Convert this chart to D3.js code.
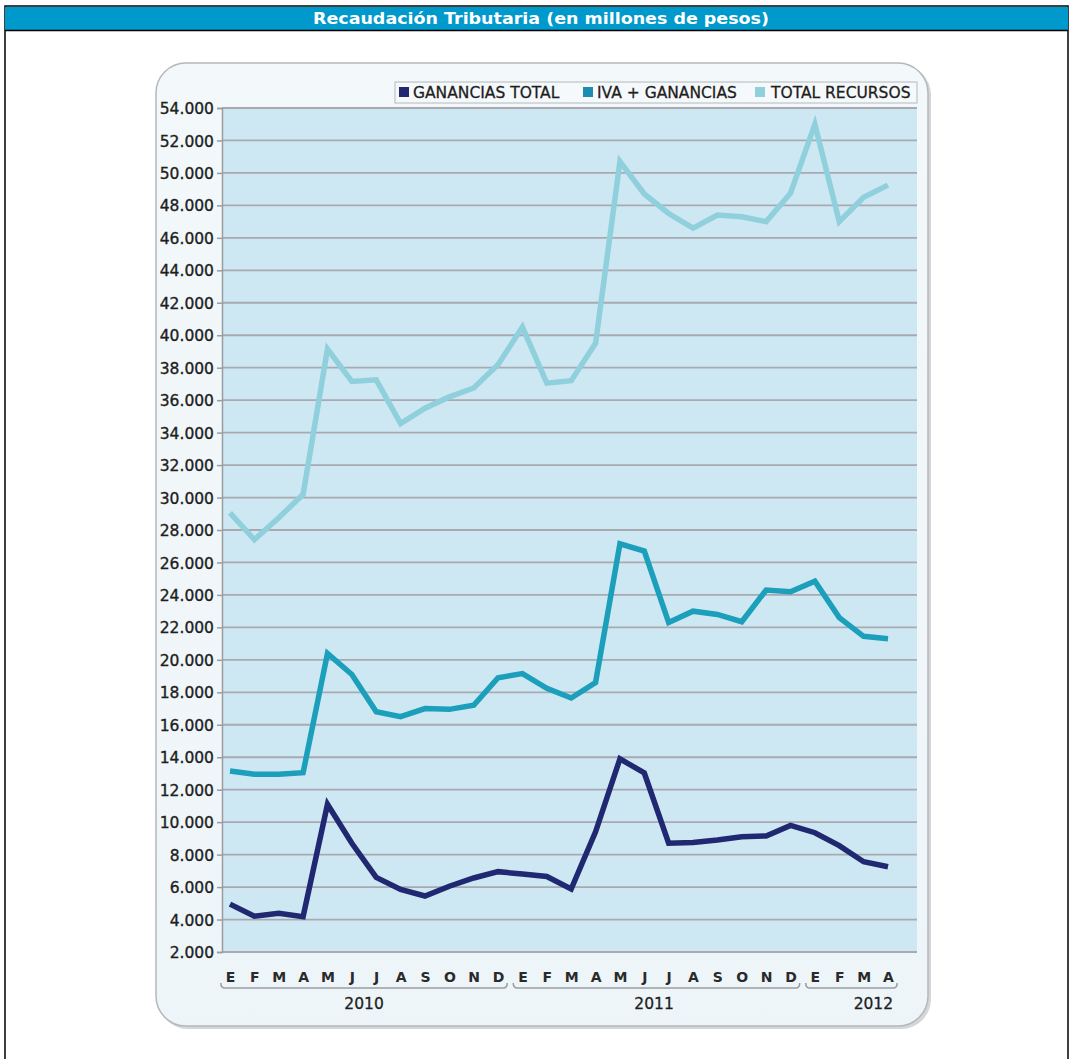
<!DOCTYPE html>
<html>
<head>
<meta charset="utf-8">
<script src="https://cdn.jsdelivr.net/npm/d3@7"></script>
<style>
  html, body { margin: 0; padding: 0; background: #ffffff; }
  svg { display: block; }
</style>
</head>
<body>
<script>
// ---- data ----
const title = "Recaudación Tributaria (en millones de pesos)";
const months = ["E","F","M","A","M","J","J","A","S","O","N","D",
                "E","F","M","A","M","J","J","A","S","O","N","D",
                "E","F","M","A"];
const yearLabels = ["2010", "2011", "2012"];
const yearStart = [0, 12, 24];
const yearEnd = [11, 23, 27];
const yearLabelAnchor = [5.5, 17.4, 26.4];
const seriesNames = ["GANANCIAS TOTAL", "IVA + GANANCIAS", "TOTAL RECURSOS"];
const gananciasTotal = [4950,4200,4380,4180,11100,8700,6600,5850,5450,6050,6560,6950,
                        6800,6650,5880,9400,13900,13030,8700,8750,8900,9100,9150,9800,
                        9350,8550,7560,7250];
const ivaGanancias = [13150,12950,12950,13050,20400,19100,16800,16500,17000,16950,17200,18900,
                      19150,18250,17650,18600,27150,26700,22300,23000,22800,22350,24300,24200,
                      24850,22600,21450,21300];
const totalRecursos = [29050,27400,28750,30200,39150,37150,37250,34550,35500,36200,36750,38200,
                       40500,37050,37200,39500,50700,48700,47500,46600,47400,47300,47000,48750,
                       53000,47000,48500,49250];
const yTicks = d3.range(2000, 54001, 2000);

// ---- styles ----
const lineColors = ["#1f2870", "#1b9fbb", "#8fd0dc"];
const legendColors = ["#1f2870", "#1a8db0", "#8fd0dc"];
const FONT = "Verdana, 'DejaVu Sans', sans-serif";

const W = 1073, H = 1059;
const svg = d3.select("body").append("svg").attr("width", W).attr("height", H);

// outer frame and title bar
svg.append("rect").attr("x", 5).attr("y", 6).attr("width", 1063).attr("height", H).attr("fill", "#fff")
  .attr("stroke", "#000").attr("stroke-width", 1.5);
svg.append("rect").attr("x", 5).attr("y", 7).attr("width", 1063).attr("height", 23).attr("fill", "#0099cc");
svg.append("line").attr("x1", 5).attr("x2", 1068).attr("y1", 30.5).attr("y2", 30.5).attr("stroke", "#000").attr("stroke-width", 1.5);
svg.append("text").attr("x", 541).attr("y", 19).attr("text-anchor", "middle").attr("dominant-baseline", "central")
  .attr("font-family", FONT).attr("font-weight", "bold").attr("font-size", 15.5)
  .attr("fill", "#fff").attr("textLength", 456).attr("lengthAdjust", "spacingAndGlyphs").text(title);

// panel
const defs = svg.append("defs");
const grad = defs.append("linearGradient").attr("id", "pg").attr("x1", 0).attr("y1", 0).attr("x2", 0).attr("y2", 1);
grad.append("stop").attr("offset", "0%").attr("stop-color", "#f3f8fa");
grad.append("stop").attr("offset", "100%").attr("stop-color", "#eef5f8");
svg.append("rect").attr("x", 158).attr("y", 65).attr("width", 773).attr("height", 964).attr("rx", 30)
  .attr("fill", "#d4d6d8");
svg.append("rect").attr("x", 156).attr("y", 63).attr("width", 772).attr("height", 963).attr("rx", 30)
  .attr("fill", "url(#pg)").attr("stroke", "#b4b8bc").attr("stroke-width", 1.5);

// scales
const x = d3.scalePoint().domain(d3.range(months.length)).range([230, 888]);
const y = d3.scaleLinear().domain([2000, 54000]).range([952, 108]);
const plotL = 222, plotR = 917;

// plot background
svg.append("rect").attr("x", plotL).attr("y", y(54000) - 1).attr("width", plotR - plotL)
  .attr("height", y(2000) - y(54000) + 1).attr("fill", "#cde8f2");

// gridlines
svg.append("g").selectAll("line").data(yTicks).join("line")
  .attr("x1", plotL).attr("x2", plotR).attr("y1", d => y(d)).attr("y2", d => y(d))
  .attr("stroke", "#a9a9b1").attr("stroke-width", 1.8);

// y axis
const loc = d3.formatLocale({decimal: ",", thousands: ".", grouping: [3], currency: ["$", ""]});
const fmt = loc.format(",");
const ya = svg.append("g").attr("transform", `translate(${plotL},0)`)
  .call(d3.axisLeft(y).tickValues(yTicks).tickFormat(fmt).tickSize(5).tickPadding(3));
ya.select(".domain").attr("stroke", "#9a9ca0").attr("stroke-width", 1.5);
ya.selectAll(".tick line").attr("stroke", "#9a9ca0").attr("stroke-width", 1.5);
ya.selectAll(".tick text").attr("font-family", FONT).attr("font-size", 15.5)
  .attr("fill", "#1e1e1e").attr("stroke", "#1e1e1e").attr("stroke-width", 0.35).attr("dy", "0.36em");

// x axis month labels
const xa = svg.append("g").attr("transform", `translate(0,${y(2000)})`)
  .call(d3.axisBottom(x).tickFormat(i => months[i]).tickSize(0).tickPadding(30));
xa.select(".domain").remove();
xa.selectAll(".tick text").attr("font-family", FONT).attr("font-size", 14)
  .attr("font-weight", "bold").attr("fill", "#2a2a2a").attr("dy", "0");

// year brackets
const step = x.step();
const by = 988;
yearLabels.forEach((lab, k) => {
  const x0 = x(yearStart[k]) - step / 2 + 3;
  const x1 = x(yearEnd[k]) + step / 2 - 3;
  svg.append("path")
    .attr("d", `M${x0},${by - 5} Q${x0},${by} ${x0 + 4},${by} L${x1 - 4},${by} Q${x1},${by} ${x1},${by - 5}`)
    .attr("fill", "none").attr("stroke", "#9a9ca0").attr("stroke-width", 1.5);
  svg.append("text").attr("x", x(0) + (yearLabelAnchor[k]) * step).attr("y", 1009)
    .attr("text-anchor", "middle").attr("font-family", FONT)
    .attr("font-size", 15.5).attr("fill", "#1e1e1e").attr("stroke", "#1e1e1e").attr("stroke-width", 0.3).text(lab);
});

// lines
const series = [gananciasTotal, ivaGanancias, totalRecursos];
const line = d3.line().x((d, i) => x(i)).y(d => y(d));
[2, 1, 0].forEach(k => {
  svg.append("path").datum(series[k]).attr("d", line).attr("fill", "none")
    .attr("stroke", lineColors[k]).attr("stroke-width", 5.5)
    .attr("stroke-linejoin", "miter").attr("stroke-linecap", "butt");
});

// legend
svg.append("rect").attr("x", 395).attr("y", 82).attr("width", 522).attr("height", 21)
  .attr("fill", "#f5f9fb").attr("stroke", "#b4b8bc").attr("stroke-width", 1);
const legSq = [399, 583, 755];
const legTx = [413, 597, 771];
seriesNames.forEach((n, k) => {
  svg.append("rect").attr("x", legSq[k]).attr("y", 87).attr("width", 10).attr("height", 10).attr("fill", legendColors[k]);
  svg.append("text").attr("x", legTx[k]).attr("y", 92.5).attr("dy", "0.36em")
    .attr("font-family", FONT).attr("font-size", 15.5).attr("fill", "#1e1e1e")
    .attr("stroke", "#1e1e1e").attr("stroke-width", 0.3).text(n);
});
</script>
</body>
</html>
